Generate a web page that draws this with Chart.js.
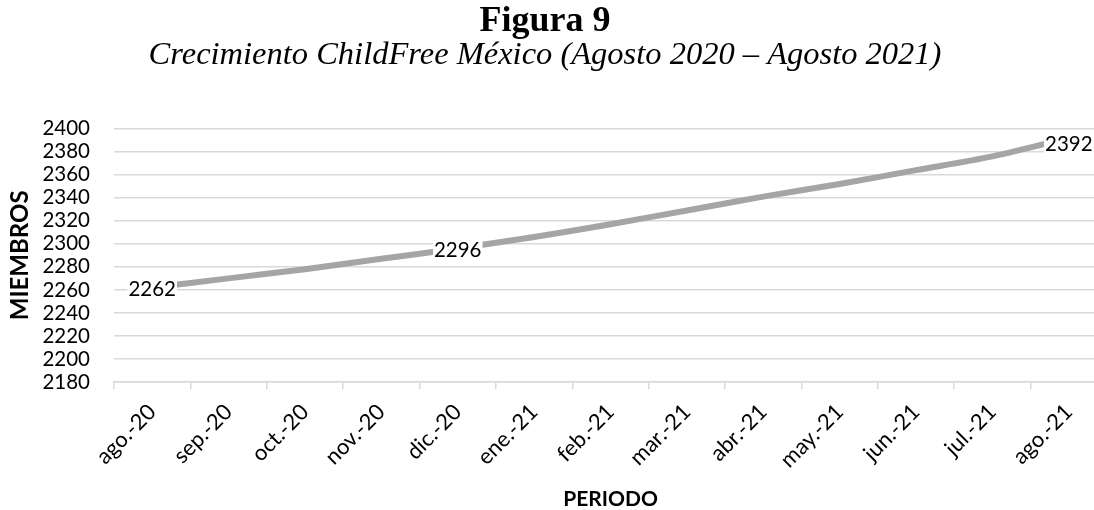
<!DOCTYPE html>
<html>
<head>
<meta charset="utf-8">
<script src="https://cdn.jsdelivr.net/npm/chart.js@4.4.1/dist/chart.umd.min.js"></script>
<style>
  html, body { margin: 0; padding: 0; background: #fff; overflow: hidden; }
  #wrap { position: relative; width: 1094px; height: 510px; overflow: hidden; }
  #wrap canvas { position: absolute; left: -17px; top: 0; }
</style>
</head>
<body>
<div id="wrap"><canvas id="myChart" width="1137" height="510" style="width:1137px;height:510px"></canvas></div>
<script>
// miembros del grupo por mes
const periodos = ["ago.-20", "sep.-20", "oct.-20", "nov.-20", "dic.-20", "ene.-21", "feb.-21",
                  "mar.-21", "abr.-21", "may.-21", "jun.-21", "jul.-21", "ago.-21"];
const miembros = [2262, 2270, 2278, 2287, 2296, 2306, 2317, 2329, 2341, 2352, 2364, 2376, 2392];
// solo estos meses llevan etiqueta
const etiquetados = [0, 4, 12];
const yMin = 2180, yMax = 2400, yPaso = 20;

const fuente = "Lato, 'Open Sans', sans-serif";

// etiquetas de valor con fondo blanco encima de la linea
const etiquetasPlugin = {
  id: "etiquetas",
  afterDatasetsDraw(chart) {
    const ctx = chart.ctx;
    const meta = chart.getDatasetMeta(0);
    ctx.save();
    ctx.font = "20.5px " + fuente;
    ctx.textAlign = "center";
    ctx.textBaseline = "middle";
    etiquetados.forEach(i => {
      const p = meta.data[i];
      const txt = String(miembros[i]);
      const w = ctx.measureText(txt).width;
      const y = i === 12 ? p.y + 6 : p.y + 2;
      ctx.fillStyle = "#fff";
      ctx.fillRect(p.x - w / 2 - 1, y - 10, w + 2, 20);
      ctx.fillStyle = "#000";
      ctx.fillText(txt, p.x, y);
    });
    ctx.restore();
  }
};

new Chart("myChart", {
  type: "line",
  data: {
    labels: periodos,
    datasets: [{
      data: miembros,
      borderColor: "#a5a5a5",
      borderWidth: 6,
      pointRadius: 0,
      tension: 0.3,
      fill: false
    }]
  },
  options: {
    responsive: false,
    animation: false,
    devicePixelRatio: 1,
    layout: { padding: { left: 0, right: 13, top: 0, bottom: 0 } },
    plugins: {
      legend: { display: false },
      tooltip: { enabled: false },
      title: {
        display: true,
        text: "Figura 9",
        color: "#000",
        font: { family: "'Liberation Serif', 'Times New Roman', serif", size: 36, weight: "bold", lineHeight: 0.95 },
        padding: { top: 5, bottom: 0 }
      },
      subtitle: {
        display: true,
        text: "Crecimiento ChildFree México (Agosto 2020 – Agosto 2021)",
        color: "#000",
        font: { family: "'Liberation Serif', 'Times New Roman', serif", size: 32.5, style: "italic", lineHeight: 1.0 },
        padding: { top: 0, bottom: 57 }
      }
    },
    scales: {
      x: {
        offset: true,
        afterFit: s => { s.height = 128; },
        grid: { offset: true, drawOnChartArea: false, color: "#d9d9d9", lineWidth: 1.5, tickLength: 7 },
        border: { color: "#d9d9d9", width: 1.5 },
        ticks: {
          autoSkip: false,
          color: "#000",
          font: { family: fuente, size: 22 },
          maxRotation: 45,
          minRotation: 45,
          padding: 10
        },
        title: {
          display: true,
          text: "PERIODO",
          color: "#000",
          font: { family: fuente, size: 21, weight: "bold", lineHeight: 1 },
          padding: { top: 0, bottom: 0 }
        }
      },
      y: {
        min: yMin,
        max: yMax,
        afterFit: s => { s.width = 131; },
        grid: { color: "#d9d9d9", lineWidth: 1.5, drawTicks: false },
        border: { display: false },
        ticks: {
          stepSize: yPaso,
          autoSkip: false,
          color: "#000",
          font: { family: fuente, size: 20.5 },
          padding: 24,
          callback: v => String(v)
        },
        title: {
          display: true,
          text: "MIEMBROS",
          color: "#000",
          font: { family: fuente, size: 24, weight: "bold", lineHeight: 1 },
          padding: { top: 25, bottom: 0 }
        }
      }
    }
  },
  plugins: [etiquetasPlugin]
});
</script>
</body>
</html>
